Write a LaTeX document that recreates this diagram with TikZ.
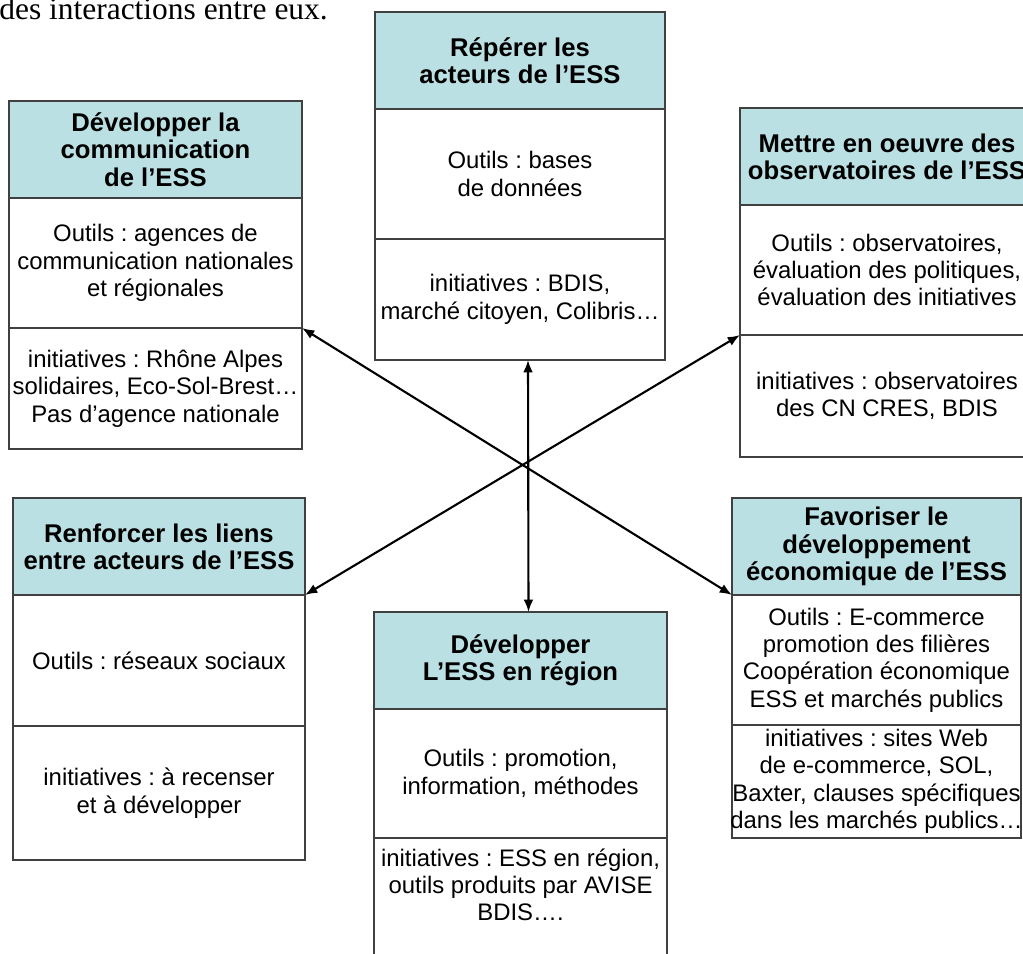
\documentclass[tikz,border=0pt]{standalone}
\usepackage{fontspec}
\setmainfont{Liberation Sans}
\newfontfamily\introfont{Liberation Serif}
\frenchspacing
\usetikzlibrary{positioning, arrows.meta}
\definecolor{entete}{RGB}{187,224,227}
\tikzset{
	titre/.style={draw=black!75, line width=0.6pt, fill=entete, align=center, outer sep=0pt, inner sep=2pt, minimum width=#1, minimum height=1.94cm, font=\bfseries\fontsize{14.6}{15.5}\selectfont},
	titre/.default=5.86cm,
	cellule/.style={draw=black!75, line width=0.6pt, fill=white, align=center, outer sep=0pt, inner sep=2pt, minimum width=#1, font=\fontsize{13.6}{15.6}\selectfont},
	cellule/.default=5.86cm,
	lien/.style={line width=1.2pt, {Latex[length=7pt,width=5.5pt]}-{Latex[length=7pt,width=5.5pt]}}
}

\begin{document}
\begin{tikzpicture}
		\useasboundingbox (0,0) rectangle (20.46,-19.08);
		\clip (0,0) rectangle (20.46,-19.08);
		\node[anchor=base west, inner sep=0pt, font=\introfont\fontsize{17.9}{20}\selectfont] (intro) at (-0.02,-0.38) {des interactions entre eux.};

		\node[titre, anchor=north west] (comTitre) at (0.18,-2.02) {Développer la\\communication\\de l’ESS};
		\node[cellule, minimum height=2.6cm, below=0pt of comTitre] (comOutils) {Outils : agences de\\communication nationales\\et régionales};
		\node[cellule, minimum height=2.42cm, below=0pt of comOutils] (comInit) {initiatives : Rhône Alpes\\solidaires, Eco-Sol-Brest…\\Pas d’agence nationale};

		\node[titre=5.8cm, anchor=north west] (repTitre) at (7.5,-0.24) {Répérer les\\acteurs de l’ESS};
		\node[cellule=5.8cm, minimum height=2.6cm, below=0pt of repTitre] (repOutils) {Outils : bases\\de données};
		\node[cellule=5.8cm, minimum height=2.42cm, below=0pt of repOutils] (repInit) {initiatives : BDIS,\\marché citoyen, Colibris…};

		\node[titre=5.88cm, anchor=north west] (obsTitre) at (14.8,-2.16) {Mettre en oeuvre des\\observatoires de l’ESS};
		\node[cellule=5.88cm, minimum height=2.6cm, below=0pt of obsTitre] (obsOutils) {Outils : observatoires,\\évaluation des politiques,\\évaluation des initiatives};
		\node[cellule=5.88cm, minimum height=2.44cm, below=0pt of obsOutils] (obsInit) {initiatives : observatoires\\des CN CRES, BDIS};

		\node[titre=5.84cm, anchor=north west] (liensTitre) at (0.26,-9.96) {Renforcer les liens\\entre acteurs de l’ESS};
		\node[cellule=5.84cm, minimum height=2.62cm, below=0pt of liensTitre] (liensOutils) {Outils : réseaux sociaux};
		\node[cellule=5.84cm, minimum height=2.68cm, below=0pt of liensOutils] (liensInit) {initiatives : à recenser\\et à développer};

		\node[titre, anchor=north west] (regTitre) at (7.48,-12.24) {Développer\\L’ESS en région};
		\node[cellule, minimum height=2.58cm, below=0pt of regTitre] (regOutils) {Outils : promotion,\\information, méthodes};
		\node[cellule, inner ysep=6pt, text depth=1.6cm, below=0pt of regOutils] (regInit) {initiatives : ESS en région,\\outils produits par AVISE\\BDIS….};

		\node[titre=5.78cm, anchor=north west] (ecoTitre) at (14.64,-9.96) {Favoriser le\\développement\\économique de l’ESS};
		\node[cellule=5.78cm, minimum height=2.6cm, below=0pt of ecoTitre] (ecoOutils) {Outils : E-commerce\\promotion des filières\\Coopération économique\\ESS et marchés publics};
		\node[cellule=5.78cm, minimum height=2.26cm, below=0pt of ecoOutils] (ecoInit) {initiatives : sites Web\\de e-commerce, SOL,\\\makebox[5.4cm]{Baxter, clauses spécifiques}\\\makebox[5.4cm]{dans les marchés publics…}};

		\draw[lien] (comOutils.south east) -- (ecoTitre.south west);
		\draw[lien] (liensTitre.south east) -- (obsOutils.south west);
		\draw[lien] ([xshift=0.16cm]repInit.south) -- ([xshift=0.16cm]regTitre.north);
	\end{tikzpicture}
\end{document}
